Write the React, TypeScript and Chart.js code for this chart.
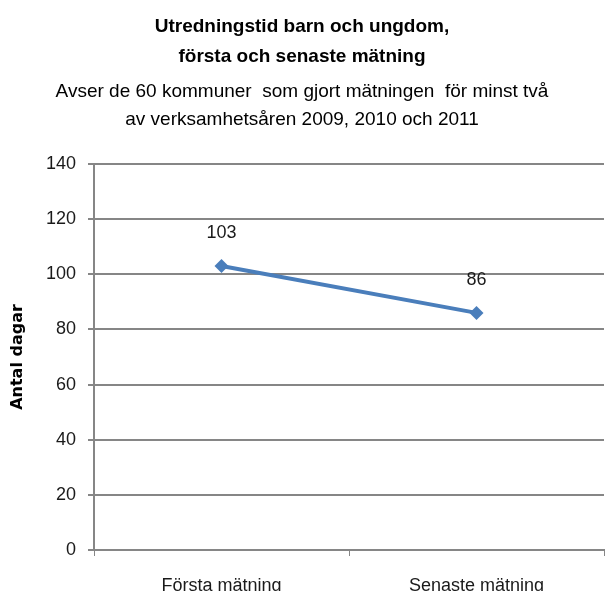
import React, { useEffect, useRef } from "react";
import { Chart, registerables } from "chart.js";

Chart.register(...registerables);

const categories: string[] = ["Första mätning", "Senaste mätning"];
const values: number[] = [103, 86];
const titleLines: string[] = ["Utredningstid barn och ungdom,", "första och senaste mätning"];
const subtitleLines: string[] = [
  "Avser de 60 kommuner  som gjort mätningen  för minst två",
  "av verksamhetsåren 2009, 2010 och 2011",
];
const yAxisTitle = "Antal dagar";
const yMin = 0;
const yMax = 140;
const yStep = 20;

const labelPlugin = {
  id: "pointLabels",
  afterDatasetsDraw(chart: any) {
    const ctx = chart.ctx;
    const meta = chart.getDatasetMeta(0);
    ctx.save();
    ctx.font = "18px 'Liberation Sans'";
    ctx.fillStyle = "#1a1a1a";
    ctx.textAlign = "center";
    ctx.textBaseline = "middle";
    meta.data.forEach((pt: any, i: number) => {
      ctx.fillText(String(values[i]), pt.x, pt.y - 33);
    });
    ctx.restore();
  },
};

export default function App() {
  const ref = useRef<HTMLCanvasElement | null>(null);
  useEffect(() => {
    if (!ref.current) return;
    const chart = new Chart(ref.current, {
      type: "line",
      data: {
        labels: categories,
        datasets: [
          {
            data: values,
            borderColor: "#4A7EBB",
            backgroundColor: "#4A7EBB",
            borderWidth: 4,
            pointStyle: "rectRot",
            pointRadius: 7,
            pointBorderWidth: 0,
            tension: 0,
          },
        ],
      },
      options: {
        animation: false,
        responsive: false,
        maintainAspectRatio: false,
        layout: { autoPadding: false, padding: { top: 0, right: 2, bottom: 0, left: 0 } },
        plugins: {
          legend: { display: false },
          tooltip: { enabled: false },
          title: {
            display: true,
            text: titleLines,
            color: "#000",
            font: { family: "'Liberation Sans'", size: 19, weight: "bold", lineHeight: 30 / 19 },
            padding: { top: 11.5, bottom: 0 },
          },
          subtitle: {
            display: true,
            text: subtitleLines,
            color: "#000",
            font: { family: "'Liberation Sans'", size: 19, lineHeight: 28 / 19 },
            padding: { top: 6, bottom: 30.5 },
          },
        },
        scales: {
          x: {
            type: "category",
            offset: true,
            grid: {
              display: true,
              drawOnChartArea: false,
              drawTicks: true,
              tickLength: 6,
              color: "#868686",
              offset: true,
            },
            border: { display: true, color: "#868686", width: 2 },
            ticks: {
              color: "#1a1a1a",
              font: { family: "'Liberation Sans'", size: 18 },
              padding: 19,
              maxRotation: 0,
            },
            afterFit(scale: any) {
              scale.height = 41;
              scale.paddingLeft = 0;
              scale.paddingRight = 0;
            },
          },
          y: {
            min: yMin,
            max: yMax,
            ticks: {
              stepSize: yStep,
              color: "#1a1a1a",
              font: { family: "'Liberation Sans'", size: 18 },
              padding: 12,
            },
            grid: { color: "#868686", lineWidth: 2, tickLength: 6 },
            border: { display: true, color: "#868686", width: 2 },
            title: {
              display: true,
              text: yAxisTitle,
              color: "#000",
              font: { family: "'DejaVu Sans'", size: 16, weight: "bold", lineHeight: 1.2 },
              padding: { top: 8, bottom: 0 },
            },
            afterFit(scale: any) {
              scale.width = 94;
              scale.paddingTop = 0;
              scale.paddingBottom = 0;
            },
          },
        },
      },
      plugins: [labelPlugin],
    });
    return () => chart.destroy();
  }, []);
  return (
    <div style={{ position: "absolute", left: 0, top: 0, width: 606, height: 591, background: "#fff" }}>
      <canvas ref={ref} width={606} height={591} style={{ display: "block" }} />
    </div>
  );
}
